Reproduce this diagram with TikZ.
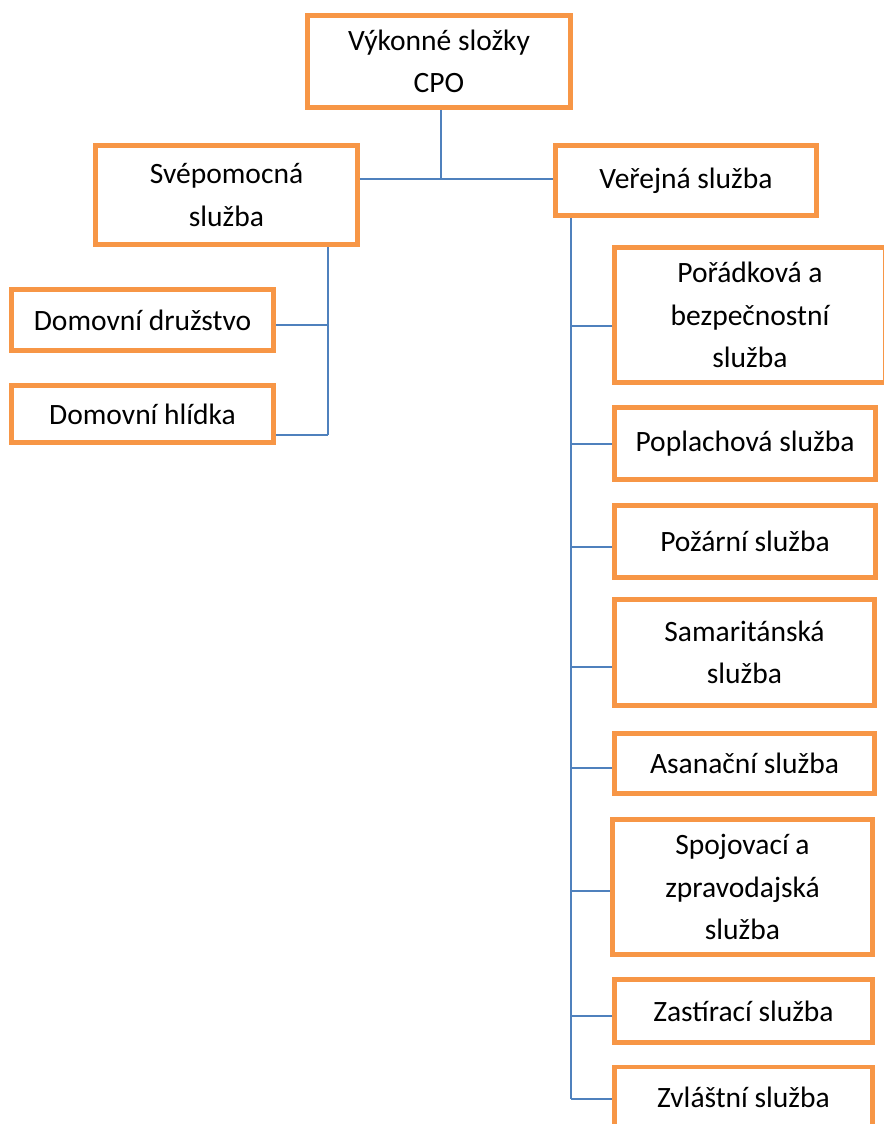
\documentclass[tikz,border=0pt]{standalone}
\usepackage{fontspec}
\setmainfont{Carlito}
\usepackage{tikz}
\usetikzlibrary{positioning}
\definecolor{boxorange}{HTML}{F79646}
\definecolor{linkblue}{HTML}{4F81BD}
\tikzset{font=\fontsize{16.8}{24}\selectfont}
\tikzstyle{box} = [draw=boxorange, line width=2.8pt, fill=white, rectangle, minimum width={261*0.02cm}, inner sep=0pt, text centered, align=center]
\tikzstyle{link} = [draw=linkblue, line width=1.1pt]

\begin{document}
\begin{tikzpicture}[x=0.02cm, y=-0.02cm]
		\useasboundingbox (0,0) rectangle (883,1124);
		% top level
		\node [box, minimum width={263*0.02cm}, minimum height={92*0.02cm}] (top) at (439,61.5) {Výkonné složky\\CPO};
		\node [box, minimum width={262*0.02cm}, minimum height={99*0.02cm}] (self) at (226.5,195) {Svépomocná\\služba};
		\node [box, minimum height={70*0.02cm}] (pub) at (686,180.5) {Veřejná služba};
		% left branch
		\node [box, minimum width={262*0.02cm}, minimum height={61*0.02cm}] (dd) at (142.5,320) {Domovní družstvo};
		\node [box, minimum width={262*0.02cm}, minimum height={57*0.02cm}] (dh) at (142.5,414) {Domovní hlídka};
		% right branch
		\node [box, minimum width={271*0.02cm}, minimum height={135*0.02cm}] (por) at (750,315) {Pořádková a\\bezpečnostní\\služba};
		\node [box, minimum height={72*0.02cm}] (popl) at (745,443.5) {Poplachová služba};
		\node [box, minimum height={72*0.02cm}] (pozar) at (745,541.5) {Požární služba};
		\node [box, minimum width={260*0.02cm}, minimum height={106*0.02cm}] (sam) at (744.5,652.5) {Samaritánská\\služba};
		\node [box, minimum width={260*0.02cm}, minimum height={60*0.02cm}] (asan) at (744.5,763.5) {Asanační služba};
		\node [box, minimum width={260*0.02cm}, minimum height={135*0.02cm}] (spoj) at (742.5,887) {Spojovací a\\zpravodajská\\služba};
		\node [box, minimum width={258*0.02cm}, minimum height={63*0.02cm}] (zast) at (743.5,1011) {Zastírací služba};
		\node [box, minimum width={258*0.02cm}, minimum height={60*0.02cm}] (zvl) at (743.5,1097) {Zvláštní služba};

		\coordinate (hub) at (441,179);
		\draw [link] (top.south -| hub) -- (hub);
		\draw [link] (self.east |- hub) -- (pub.west |- hub);

		\coordinate (l-dd) at (328,325);
		\coordinate (l-dh) at (328,435);
		\draw [link] (self.south -| l-dd) -- (l-dh);
		\draw [link] (l-dd) -- (dd.east |- l-dd);
		\draw [link] (l-dh) -- (dh.east |- l-dh);

		\foreach \n/\y in {por/326, popl/444, pozar/547, sam/667, asan/768, spoj/891, zast/1016, zvl/1099} {
			\coordinate (r-\n) at (571,\y);
			\draw [link] (r-\n) -- (\n.west |- r-\n);
		}
		\draw [link] (pub.south -| r-por) -- (r-zvl);
	\end{tikzpicture}
\end{document}
